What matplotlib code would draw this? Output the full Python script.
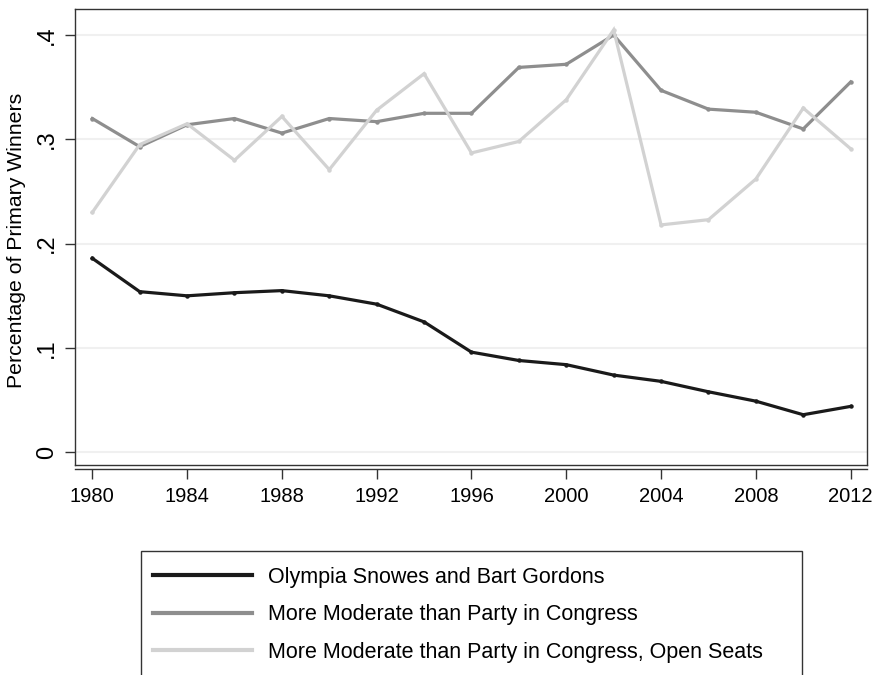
import matplotlib
matplotlib.use("Agg")
import matplotlib.pyplot as plt
from matplotlib.patches import Rectangle

plt.rcParams['font.family'] = ['Liberation Sans', 'DejaVu Sans']

years = [1980, 1982, 1984, 1986, 1988, 1990, 1992, 1994, 1996, 1998, 2000,
         2002, 2004, 2006, 2008, 2010, 2012]
snowes_gordons = [0.186, 0.154, 0.150, 0.153, 0.155, 0.150, 0.142, 0.125, 0.096,
                  0.088, 0.084, 0.074, 0.068, 0.058, 0.049, 0.036, 0.044]
more_moderate = [0.320, 0.293, 0.314, 0.320, 0.306, 0.320, 0.317, 0.325, 0.325,
                 0.369, 0.372, 0.400, 0.347, 0.329, 0.326, 0.310, 0.355]
more_moderate_open = [0.230, 0.295, 0.315, 0.280, 0.322, 0.271, 0.328, 0.363, 0.287,
                      0.298, 0.338, 0.405, 0.218, 0.223, 0.262, 0.330, 0.291]
labels = ["Olympia Snowes and Bart Gordons",
          "More Moderate than Party in Congress",
          "More Moderate than Party in Congress, Open Seats"]
colors = ["#1a1a1a", "#8e8e8e", "#d2d2d2"]
xticks = [1980, 1984, 1988, 1992, 1996, 2000, 2004, 2008, 2012]
yticks = [0, 0.1, 0.2, 0.3, 0.4]
yticklabels = ["0", ".1", ".2", ".3", ".4"]

W, H = 876, 675
fig = plt.figure(figsize=(W/100, H/100), dpi=100)
ax = fig.add_axes([75/W, 1-465/H, 792/W, 456/H])

handles = []
for series, lab, col in zip([snowes_gordons, more_moderate, more_moderate_open], labels, colors):
    h, = ax.plot(years, series, color=col, lw=2.3, marker='o', markersize=2.2,
                 solid_joinstyle='miter', label=lab, zorder=3)
    handles.append(h)

ax.set_xlim(1979.27, 2012.69)
ax.set_ylim(-0.0122, 0.425)
ax.set_xticks(xticks)
ax.set_xticklabels([str(x) for x in xticks])
ax.set_yticks(yticks)
ax.set_yticklabels(yticklabels, rotation=90, va='center')
ax.grid(axis='y', color='#f0f0f0', lw=1.5, zorder=0)

for s in ax.spines.values():
    s.set_color('#333333')
    s.set_linewidth(1.0)
ax.spines['bottom'].set_position(('outward', 3))
ax.plot([0, 1], [0, 0], transform=ax.transAxes, color='#333333', lw=1.0, clip_on=False)

ax.tick_params(axis='x', length=7, width=1.0, color='#333333', labelsize=14.5, pad=6)
ax.tick_params(axis='y', length=7, width=1.0, color='#333333', labelsize=17, pad=5)

ax.set_ylabel("Percentage of Primary Winners", fontsize=15.3)
ax.yaxis.set_label_coords(-0.062, 0.492)

# legend frame (extends past the bottom edge, as in the reference)
fig.patches.append(Rectangle((141/W, -0.05), (802-141)/W, (1-551/H) + 0.05,
                             transform=fig.transFigure, fill=False,
                             edgecolor='#333333', lw=1.0))

leg = fig.legend(handles=[plt.Line2D([], [], color=c, lw=3.0) for c in colors],
                 labels=labels, loc='upper left',
                 bbox_to_anchor=(141/W, 1-555/H, (802-141)/W, 0.0),
                 mode='expand', fontsize=15.5, handlelength=4.6, handletextpad=0.75,
                 labelspacing=0.76, borderpad=0.55, frameon=False,
                 borderaxespad=0.0)

fig.savefig("out.png", dpi=100)
